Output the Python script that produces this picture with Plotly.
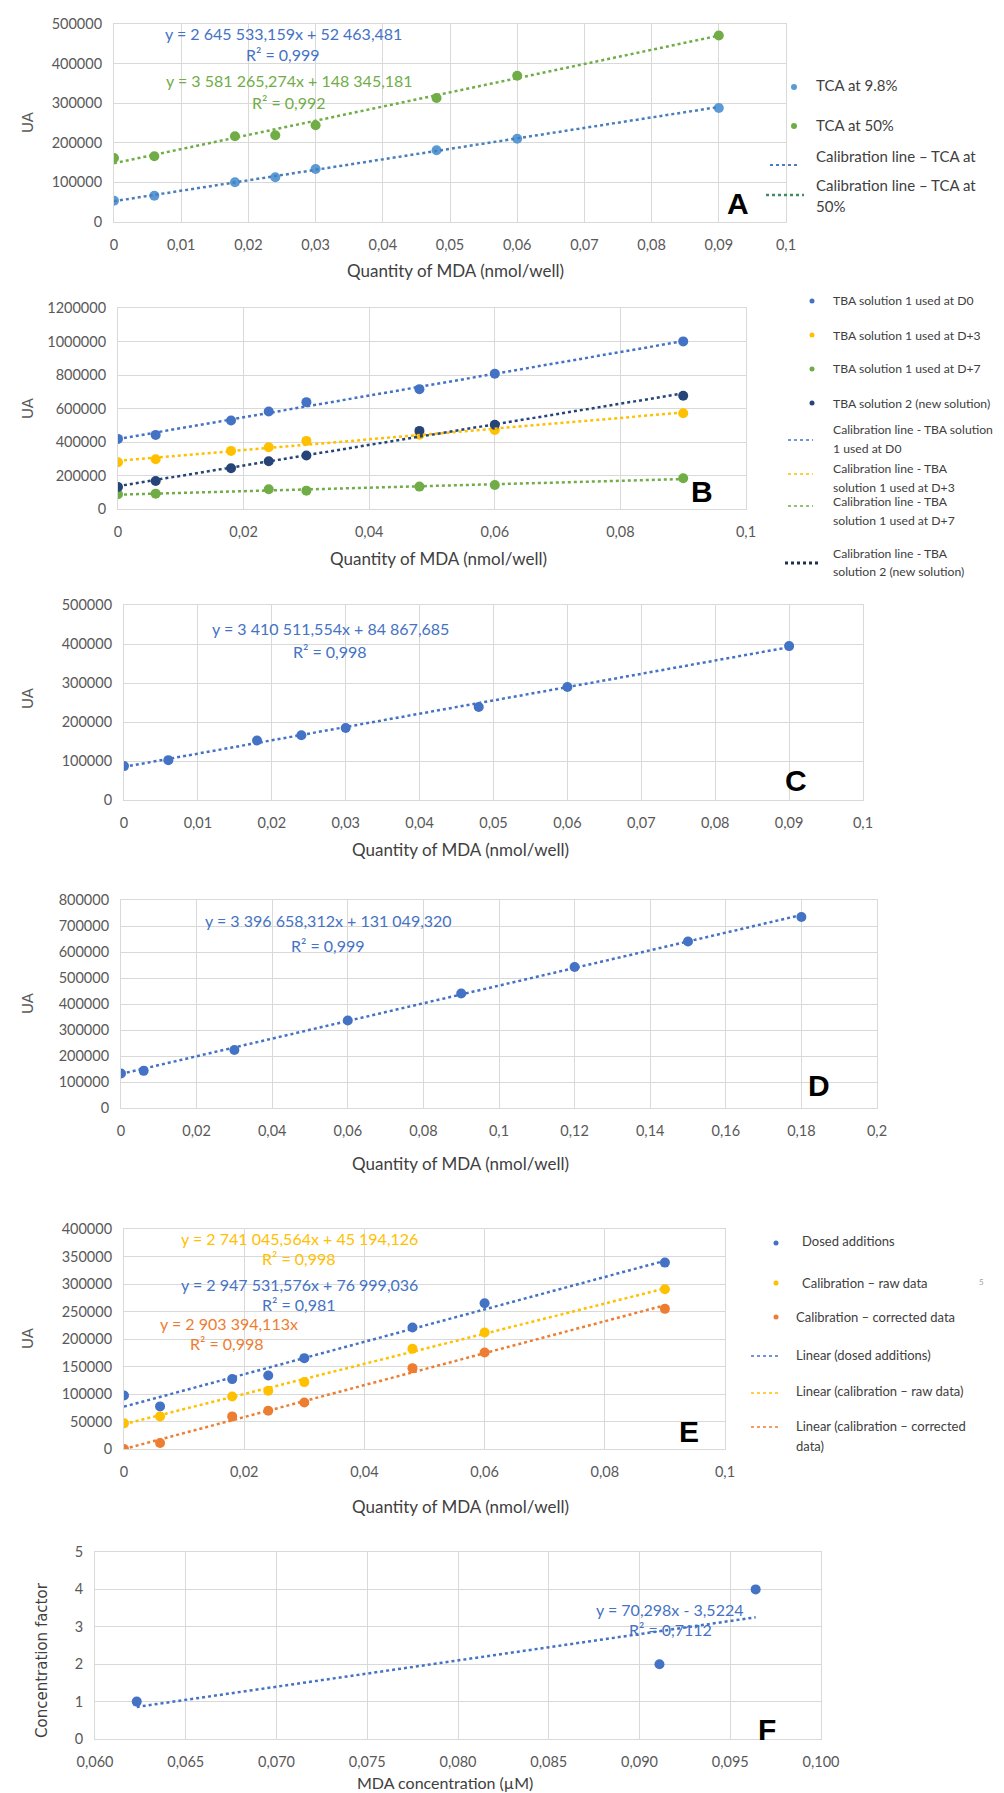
import plotly.graph_objects as go
import numpy as np

W, H = 1004, 1793

# ---------------- DATA ----------------
mda_x = [0, 0.006, 0.018, 0.024, 0.030, 0.048, 0.060, 0.090]

# Panel A
a_tca98 = [53800, 66400, 100200, 112900, 133800, 181000, 210400, 287900]
a_tca50 = [161600, 165900, 216400, 218900, 244200, 313100, 369400, 471000]
a_fit98 = [2645533.159, 52463.481]
a_fit50 = [3581265.274, 148345.181]

# Panel B
b_d0 = [418600, 442500, 528200, 582100, 637900, 715600, 807300, 1000700]
b_d3 = [279000, 297000, 346800, 368800, 406600, 443000, 472000, 572100]
b_d7_x = [0, 0.006, 0.024, 0.030, 0.048, 0.060, 0.090]
b_d7 = [87700, 91700, 117600, 109600, 133600, 143500, 183400]
b_sol2 = [131600, 167400, 243200, 285000, 318900, 466400, 502300, 675700]

# Panel C
c_vals = [86900, 102200, 152500, 166100, 184800, 238500, 289600, 394600]
c_fit = [3410511.554, 84867.685]

# Panel D
d_x = [0, 0.006, 0.03, 0.06, 0.09, 0.12, 0.15, 0.18]
d_vals = [132700, 142900, 223300, 336800, 440200, 542300, 640500, 734500]
d_fit = [3396658.312, 131049.320]

# Panel E
e_dosed = [97400, 77500, 127100, 133700, 165200, 220900, 265100, 338900]
e_raw = [46600, 59300, 95600, 105900, 121600, 182100, 211800, 290500]
e_corr = [0, 10900, 59300, 69600, 84700, 147000, 175500, 254800]
e_fit_dosed = [2947531.576, 76999.036]
e_fit_raw = [2741045.564, 45194.126]
e_fit_corr = [2903394.113, 0.0]

# Panel F
f_x = [0.0623, 0.0911, 0.0964]
f_y = [1, 2, 4]
f_fit = [70.298, -3.5224]

# Tick labels
x01_vals = [0, 0.01, 0.02, 0.03, 0.04, 0.05, 0.06, 0.07, 0.08, 0.09, 0.1]
x01_text = ["0", "0,01", "0,02", "0,03", "0,04", "0,05", "0,06", "0,07", "0,08", "0,09", "0,1"]
x02_vals = [0, 0.02, 0.04, 0.06, 0.08, 0.1]
x02_text = ["0", "0,02", "0,04", "0,06", "0,08", "0,1"]
xd_vals = [0, 0.02, 0.04, 0.06, 0.08, 0.1, 0.12, 0.14, 0.16, 0.18, 0.2]
xd_text = ["0", "0,02", "0,04", "0,06", "0,08", "0,1", "0,12", "0,14", "0,16", "0,18", "0,2"]
xf_vals = [0.060, 0.065, 0.070, 0.075, 0.080, 0.085, 0.090, 0.095, 0.100]
xf_text = ["0,060", "0,065", "0,070", "0,075", "0,080", "0,085", "0,090", "0,095", "0,100"]

# ---------------- STYLE ----------------
C_LBLUE = "#5B9BD5"
C_BLUE = "#4472C4"
C_GREEN = "#70AD47"
C_YEL = "#FFC000"
C_NAVY = "#264478"
C_ORANGE = "#ED7D31"
GRID = "#D9D9D9"
TICK = "#595959"
TXT = "#404040"
FONT = "Lato"

# panel boxes in pixels: (left, right, top, bottom)
boxes = {
    1: (106, 778, 16, 214),
    2: (110, 738, 300, 501),
    3: (116, 855, 597, 792),
    4: (113, 869, 892, 1100),
    5: (116, 717, 1221, 1441),
    6: (87, 813, 1544, 1731),
}


def dom(i):
    l, r, t, b = boxes[i]
    return [l / W, r / W], [1 - b / H, 1 - t / H]


def xaxis(i, rng, vals, text):
    xd, _ = dom(i)
    return dict(domain=xd, range=rng, tickvals=vals, ticktext=text,
                anchor="y" if i == 1 else "y%d" % i,
                showgrid=True, gridcolor=GRID, gridwidth=1,
                showline=True, linecolor=GRID, linewidth=1, mirror=True,
                zeroline=False, ticks="", ticklabelstandoff=10,
                tickfont=dict(family=FONT, size=14.5, color=TICK),
                automargin=False, fixedrange=True)


def yaxis(i, rng, dtick):
    _, yd = dom(i)
    return dict(domain=yd, range=rng, dtick=dtick, tick0=0, tickformat="d",
                anchor="x" if i == 1 else "x%d" % i,
                showgrid=True, gridcolor=GRID, gridwidth=1,
                showline=True, linecolor=GRID, linewidth=1, mirror=True,
                zeroline=False, ticks="", ticklabelstandoff=8,
                tickfont=dict(family=FONT, size=14.5, color=TICK),
                automargin=False, fixedrange=True)


fig = go.Figure()


def ax(i):
    return ("x", "y") if i == 1 else ("x%d" % i, "y%d" % i)


def pts(i, x, y, color):
    xa, ya = ax(i)
    fig.add_trace(go.Scatter(x=x, y=y, mode="markers", xaxis=xa, yaxis=ya,
                             marker=dict(color=color, size=10, line=dict(width=0)),
                             showlegend=False, hoverinfo="skip"))


def trend(i, x, fit, color, width=2.5):
    xa, ya = ax(i)
    xs = np.array([min(x), max(x)], dtype=float)
    ys = fit[0] * xs + fit[1]
    fig.add_trace(go.Scatter(x=xs, y=ys, mode="lines", xaxis=xa, yaxis=ya,
                             line=dict(color=color, width=width, dash="dot"),
                             showlegend=False, hoverinfo="skip"))


# Panel A
pts(1, mda_x, a_tca98, C_LBLUE)
pts(1, mda_x, a_tca50, C_GREEN)
trend(1, mda_x, a_fit98, "#4A7EBB")
trend(1, mda_x, a_fit50, C_GREEN)

# Panel B
pts(2, mda_x, b_d0, C_BLUE)
pts(2, mda_x, b_d3, C_YEL)
pts(2, b_d7_x, b_d7, C_GREEN)
pts(2, mda_x, b_sol2, C_NAVY)
trend(2, mda_x, list(np.polyfit(mda_x, b_d0, 1)), C_BLUE)
trend(2, mda_x, list(np.polyfit(mda_x, b_d3, 1)), C_YEL)
trend(2, b_d7_x, list(np.polyfit(b_d7_x, b_d7, 1)), C_GREEN)
trend(2, mda_x, list(np.polyfit(mda_x, b_sol2, 1)), C_NAVY)

# Panel C
pts(3, mda_x, c_vals, C_BLUE)
trend(3, mda_x, c_fit, C_BLUE)

# Panel D
pts(4, d_x, d_vals, C_BLUE)
trend(4, d_x, d_fit, C_BLUE)

# Panel E
pts(5, mda_x, e_dosed, C_BLUE)
pts(5, mda_x, e_raw, C_YEL)
pts(5, mda_x, e_corr, C_ORANGE)
trend(5, mda_x, e_fit_dosed, C_BLUE)
trend(5, mda_x, e_fit_raw, C_YEL)
trend(5, mda_x, e_fit_corr, C_ORANGE)

# Panel F
pts(6, f_x, f_y, C_BLUE)
trend(6, f_x, f_fit, C_BLUE)

layout = dict(width=W, height=H, margin=dict(l=0, r=0, t=0, b=0),
              paper_bgcolor="white", plot_bgcolor="white", showlegend=False)
layout["xaxis"] = xaxis(1, [0, 0.1], x01_vals, x01_text)
layout["yaxis"] = yaxis(1, [0, 500000], 100000)
layout["xaxis2"] = xaxis(2, [0, 0.1], x02_vals, x02_text)
layout["yaxis2"] = yaxis(2, [0, 1200000], 200000)
layout["xaxis3"] = xaxis(3, [0, 0.1], x01_vals, x01_text)
layout["yaxis3"] = yaxis(3, [0, 500000], 100000)
layout["xaxis4"] = xaxis(4, [0, 0.2], xd_vals, xd_text)
layout["yaxis4"] = yaxis(4, [0, 800000], 100000)
layout["xaxis5"] = xaxis(5, [0, 0.1], x02_vals, x02_text)
layout["yaxis5"] = yaxis(5, [0, 400000], 50000)
layout["xaxis6"] = xaxis(6, [0.06, 0.1], xf_vals, xf_text)
layout["yaxis6"] = yaxis(6, [0, 5], 1)
fig.update_layout(**layout)

# ---------------- TEXT / LEGENDS ----------------
anns = []
shapes = []


def T(text, px, py, size=15, color=TXT, family=FONT, xanchor="center", angle=0, bold=False):
    if bold:
        text = "<b>%s</b>" % text
    anns.append(dict(text=text, x=px / W, y=1 - py / H, xref="paper", yref="paper",
                     xanchor=xanchor, yanchor="middle", showarrow=False, textangle=angle,
                     font=dict(family=family, size=size, color=color)))


def dot(px, py, color, r=3):
    shapes.append(dict(type="circle", xref="paper", yref="paper",
                       x0=(px - r) / W, x1=(px + r) / W,
                       y0=1 - (py + r) / H, y1=1 - (py - r) / H,
                       fillcolor=color, line=dict(width=0)))


def lsample(px0, px1, py, color, width=2):
    shapes.append(dict(type="line", xref="paper", yref="paper",
                       x0=px0 / W, x1=px1 / W, y0=1 - py / H, y1=1 - py / H,
                       line=dict(color=color, width=width, dash="dot")))


XTITLE = "Quantity of MDA (nmol/well)"

# Axis titles
T(XTITLE, 447, 262, size=17, color=TXT)
T(XTITLE, 430, 550, size=17, color=TXT)
T(XTITLE, 452, 842, size=17, color=TXT)
T(XTITLE, 452, 1155, size=17, color=TXT)
T(XTITLE, 452, 1498, size=17, color=TXT)
T("MDA concentration (µM)", 437, 1774, size=16, color=TXT)
for py in [114, 400, 690, 995, 1330]:
    T("UA", 19, py, size=15, color=TICK, angle=-90)
T("Concentration factor", 34, 1652, size=15, color=TXT, family="DejaVu Sans", angle=-90)

# Panel letters
for lab, px, py in [("A", 730, 195), ("B", 694, 483), ("C", 788, 773),
                    ("D", 811, 1077), ("E", 681, 1423), ("F", 759, 1721)]:
    T(lab, px, py, size=30, color="black", family="Liberation Sans", bold=True)

# Equations
T("y = 2 645 533,159x + 52 463,481", 275, 25, size=16, color=C_BLUE)
T("R² = 0,999", 275, 47, size=16, color=C_BLUE)
T("y = 3 581 265,274x + 148 345,181", 281, 73, size=16, color=C_GREEN)
T("R² = 0,992", 281, 94, size=16, color=C_GREEN)

T("y = 3 410 511,554x + 84 867,685", 322, 620, size=16, color=C_BLUE)
T("R² = 0,998", 322, 644, size=16, color=C_BLUE)

T("y = 3 396 658,312x + 131 049,320", 320, 913, size=16, color=C_BLUE)
T("R² = 0,999", 320, 937, size=16, color=C_BLUE)

T("y = 2 741 045,564x + 45 194,126", 291, 1230, size=16, color=C_YEL)
T("R² = 0,998", 291, 1250, size=16, color=C_YEL)
T("y = 2 947 531,576x + 76 999,036", 291, 1276, size=16, color=C_BLUE)
T("R² = 0,981", 291, 1296, size=16, color=C_BLUE)
T("y = 2 903 394,113x", 221, 1315, size=16, color=C_ORANGE)
T("R² = 0,998", 219, 1335, size=16, color=C_ORANGE)

T("y = 70,298x - 3,5224", 662, 1601, size=16, color=C_BLUE)
T("R² = 0,7112", 662, 1621, size=16, color=C_BLUE)

# Legend A
dot(786, 79, C_LBLUE)
T("TCA at 9.8%", 806, 77, size=15, xanchor="left")
dot(786, 118, C_GREEN)
T("TCA at 50%", 806, 117, size=15, xanchor="left")
lsample(762, 792, 157, "#4A7EBB")
T("Calibration line – TCA at", 806, 148, size=15, xanchor="left")
lsample(758, 796, 187, "#3E8E5E", width=2.5)
T("Calibration line – TCA at", 806, 177, size=15, xanchor="left")
T("50%", 806, 198, size=15, xanchor="left")

# Legend B
LB = 12.2
for py, col, lab in [(293, C_BLUE, "TBA solution 1 used at D0"),
                     (327, C_YEL, "TBA solution 1 used at D+3"),
                     (361, C_GREEN, "TBA solution 1 used at D+7"),
                     (395, C_NAVY, "TBA solution 2 (new solution)")]:
    dot(804, py, col, r=2.5)
    T(lab, 823, py, size=LB, xanchor="left")
lsample(780, 805, 432, C_BLUE, width=1.5)
T("Calibration line - TBA solution", 823, 422, size=LB, xanchor="left")
T("1 used at D0", 823, 440, size=LB, xanchor="left")
lsample(780, 805, 466, C_YEL, width=1.5)
T("Calibration line - TBA", 823, 460, size=LB, xanchor="left")
T("solution 1 used at D+3", 823, 479, size=LB, xanchor="left")
lsample(780, 805, 498, C_GREEN, width=1.5)
T("Calibration line - TBA", 823, 494, size=LB, xanchor="left")
T("solution 1 used at D+7", 823, 512, size=LB, xanchor="left")
lsample(777, 812, 555, "#1F2F4F", width=3)
T("Calibration line - TBA", 823, 545, size=LB, xanchor="left")
T("solution 2 (new solution)", 823, 564, size=LB, xanchor="left")

# Legend E
LE = 13
dot(768, 1235, C_BLUE, r=2.5)
T("Dosed additions", 792, 1233, size=LE, xanchor="left")
dot(768, 1275, C_YEL, r=2.5)
T("Calibration – raw data", 792, 1275, size=LE, xanchor="left")
T("5", 973, 1274, size=8, color="#A0A0A0")
dot(768, 1309, C_ORANGE, r=2.5)
T("Calibration – corrected data", 786, 1309, size=LE, xanchor="left")
lsample(743, 772, 1348, C_BLUE, width=1.5)
T("Linear (dosed additions)", 786, 1347, size=LE, xanchor="left")
lsample(743, 772, 1385, C_YEL, width=1.5)
T("Linear (calibration – raw data)", 786, 1383, size=LE, xanchor="left")
lsample(743, 772, 1419, C_ORANGE, width=1.5)
T("Linear (calibration – corrected", 786, 1418, size=LE, xanchor="left")
T("data)", 786, 1438, size=LE, xanchor="left")

fig.update_layout(annotations=anns, shapes=shapes)
fig.write_html("out.html")
